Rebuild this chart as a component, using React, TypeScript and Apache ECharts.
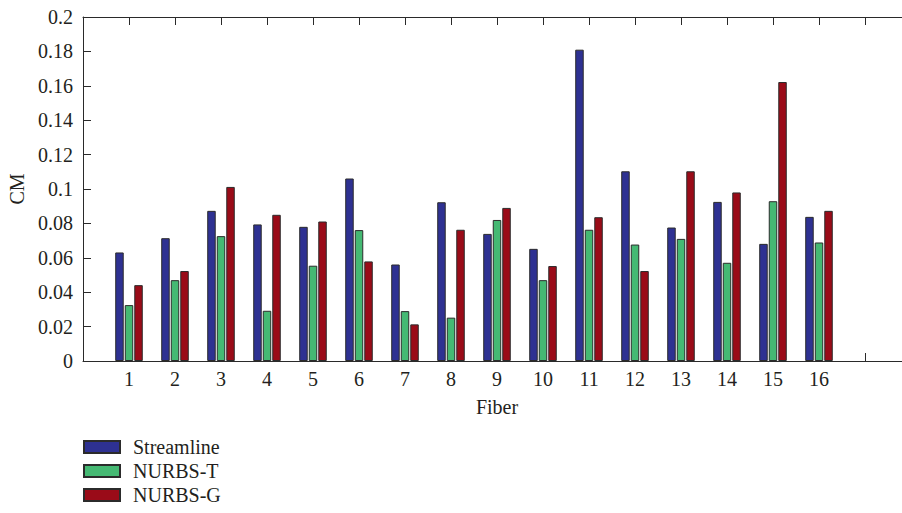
import React, { useEffect, useRef } from "react";
import * as echarts from "echarts";

const fibers = [1, 2, 3, 4, 5, 6, 7, 8, 9, 10, 11, 12, 13, 14, 15, 16];
const streamline = [0.0631, 0.0714, 0.0873, 0.0794, 0.078, 0.1061, 0.0561, 0.0923, 0.0739, 0.0652, 0.181, 0.1103, 0.0776, 0.0925, 0.0681, 0.0838];
const nurbsT = [0.0325, 0.047, 0.0726, 0.0292, 0.0554, 0.0761, 0.029, 0.0252, 0.082, 0.047, 0.0763, 0.0677, 0.071, 0.0571, 0.0929, 0.0689];
const nurbsG = [0.0441, 0.0523, 0.1012, 0.085, 0.0811, 0.0579, 0.0213, 0.0763, 0.089, 0.0552, 0.0836, 0.0523, 0.1103, 0.098, 0.1622, 0.0873];
const seriesNames = ["Streamline", "NURBS-T", "NURBS-G"];
const colors = ["#2e3192", "#45b973", "#9a0b18"];

const FONT = "'Liberation Serif', 'Times New Roman', serif";
const TXT = "#231f20";

export default function App() {
  const ref = useRef<HTMLDivElement>(null);
  useEffect(() => {
    if (!ref.current) return;
    const chart = echarts.init(ref.current, undefined, { renderer: "svg" });
    const axisLine = { show: true, lineStyle: { color: "#2a2a2a", width: 1 } };
    const data = [streamline, nurbsT, nurbsG];
    chart.setOption({
      animation: false,
      textStyle: { fontFamily: FONT, color: TXT },
      grid: { left: 83, top: 17, width: 828, height: 344, containLabel: false, outerBoundsMode: "none" },
      legend: {
        orient: "vertical",
        left: 83,
        top: 437,
        height: 120,
        itemWidth: 36,
        itemHeight: 12,
        itemGap: 4,
        icon: "rect",
        selectedMode: false,
        padding: 0,
        textStyle: { fontFamily: FONT, fontSize: 20, lineHeight: 20, color: TXT, padding: [0, 0, 0, 8] },
        data: seriesNames,
      },
      xAxis: [
        {
          type: "value",
          min: 0,
          max: 18,
          interval: 1,
          position: "bottom",
          name: "Fiber",
          nameLocation: "middle",
          nameGap: 36,
          nameTextStyle: { fontFamily: FONT, fontSize: 20, color: TXT },
          axisLine,
          axisTick: { show: true, inside: true, length: 8, lineStyle: { color: "#2a2a2a" } },
          splitLine: { show: false },
          axisLabel: {
            fontFamily: FONT,
            fontSize: 20,
            color: TXT,
            margin: 8,
            formatter: (v: number) => (fibers.indexOf(v) >= 0 ? String(v) : ""),
          },
        },
        {
          type: "value",
          min: 0,
          max: 18,
          interval: 1,
          position: "top",
          axisLine,
          axisTick: { show: true, inside: true, length: 8, lineStyle: { color: "#2a2a2a" } },
          splitLine: { show: false },
          axisLabel: { show: false },
        },
      ],
      yAxis: {
        type: "value",
        min: 0,
        max: 0.2,
        interval: 0.02,
        name: "CM",
        nameLocation: "middle",
        nameGap: 55,
        nameTextStyle: { fontFamily: FONT, fontSize: 20, color: TXT },
        axisLine,
        axisTick: { show: true, inside: true, length: 8, lineStyle: { color: "#2a2a2a" } },
        splitLine: { show: false },
        axisLabel: {
          fontFamily: FONT,
          fontSize: 20,
          color: TXT,
          margin: 10,
          formatter: (v: number) => String(parseFloat(v.toFixed(2))),
        },
      },
      series: seriesNames.map((name, i) => ({
        name,
        type: "bar",
        xAxisIndex: 0,
        barWidth: 8.5,
        barGap: "12%",
        itemStyle: { color: colors[i], borderColor: "#2b2b2b", borderWidth: 1 },
        data: fibers.map((f, j) => [f, data[i][j]]),
      })),
    });
    return () => chart.dispose();
  }, []);
  return (
    <div
      ref={ref}
      style={{ position: "fixed", left: 0, top: 0, width: 902, height: 513, background: "#fff" }}
    />
  );
}
